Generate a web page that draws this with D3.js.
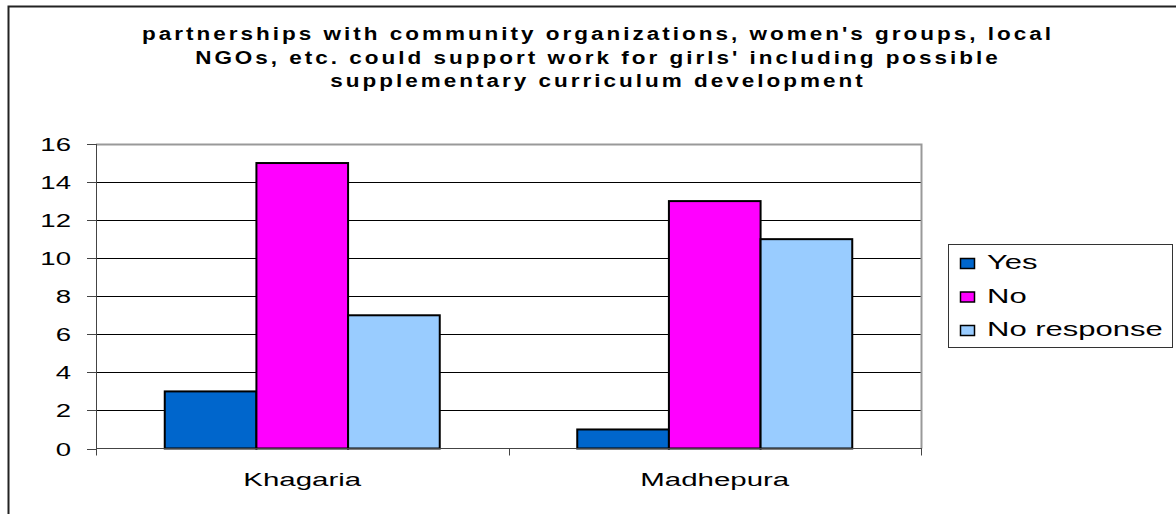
<!DOCTYPE html>
<html>
<head>
<meta charset="utf-8">
<script src="https://cdn.jsdelivr.net/npm/d3@7"></script>
<style>
  body { margin: 0; background: #fff; }
  text { font-family: "Liberation Sans", Arial, sans-serif; fill: #000; }
</style>
</head>
<body>
<div id="chart"></div>
<script>
(function(d3) {
'use strict';

var titleLines = [
  "partnerships with community organizations, women's groups, local",
  "NGOs, etc. could support work for girls' including possible",
  "supplementary curriculum development"
];
var districts = ['Khagaria', 'Madhepura'];
var seriesNames = ['Yes', 'No', 'No response'];
var yesValues = [3, 1];
var noValues = [15, 13];
var noResponseValues = [7, 11];
var yTicks = [0, 2, 4, 6, 8, 10, 12, 14, 16];

var seriesValues = [yesValues, noValues, noResponseValues];
var colors = ['#0066CC', '#FF00FF', '#99CCFF'];

var width = 1176, height = 514;
var plot = {left: 96, right: 921, top: 144, bottom: 448.5};
var stretch = 1.45;

var svg = d3.select('#chart')
  .append('svg')
  .attr('width', width)
  .attr('height', height);

// outer frame (top and left only)
svg.append('path')
  .attr('d', 'M8.5,' + height + 'V6.5H' + width)
  .attr('fill', 'none')
  .attr('stroke', '#222')
  .attr('stroke-width', 2);

// title, wide spacing like the original
svg.selectAll('.title')
  .data(titleLines)
  .enter()
  .append('text')
  .attr('class', 'title')
  .attr('transform', function(d, i) { return 'translate(598,' + (40 + i * 23.5) + ') scale(1.25,1)'; })
  .attr('text-anchor', 'middle')
  .style('font-weight', 'bold')
  .style('font-size', '18px')
  .style('letter-spacing', '2.4px')
  .text(function(d) { return d; });

var x0 = d3.scaleBand()
  .domain(districts)
  .range([plot.left, plot.right]);

// excel style gap: 1.5 bar widths split on both sides
var x1 = d3.scaleBand()
  .domain(seriesNames)
  .range([0, x0.bandwidth()])
  .paddingInner(0)
  .paddingOuter(0.75);

var y = d3.scaleLinear()
  .domain([0, 16])
  .range([plot.bottom, plot.top]);

// gridlines
svg.append('g')
  .selectAll('line')
  .data(yTicks.filter(function(t) { return t > 0 && t < 16; }))
  .enter()
  .append('line')
  .attr('x1', plot.left)
  .attr('x2', plot.right)
  .attr('y1', function(d) { return Math.round(y(d)) + 0.5; })
  .attr('y2', function(d) { return Math.round(y(d)) + 0.5; })
  .attr('stroke', '#000')
  .attr('stroke-width', 1);

// plot border top/right (gray)
svg.append('path')
  .attr('d', 'M' + plot.left + ',' + (plot.top + 0.5) + 'H' + (plot.right + 0.5) + 'V' + plot.bottom)
  .attr('fill', 'none')
  .attr('stroke', '#999')
  .attr('stroke-width', 2);

// bars
var groups = svg.append('g')
  .selectAll('g')
  .data(districts)
  .enter()
  .append('g')
  .attr('transform', function(d) { return 'translate(' + x0(d) + ',0)'; });

groups.selectAll('rect')
  .data(function(d, i) {
    return seriesNames.map(function(s, j) { return {series: s, value: seriesValues[j][i], idx: j}; });
  })
  .enter()
  .append('rect')
  .attr('x', function(d) { return x1(d.series); })
  .attr('width', x1.bandwidth())
  .attr('y', function(d) { return y(d.value); })
  .attr('height', function(d) { return y(0) - y(d.value); })
  .attr('fill', function(d) { return colors[d.idx]; })
  .attr('stroke', '#000')
  .attr('stroke-width', 2);

// y axis
var yAxis = svg.append('g');
yAxis.append('line')
  .attr('x1', plot.left + 0.5).attr('x2', plot.left + 0.5)
  .attr('y1', plot.top).attr('y2', plot.bottom + 6)
  .attr('stroke', '#444');
yAxis.selectAll('.tick')
  .data(yTicks)
  .enter()
  .append('line')
  .attr('x1', plot.left - 9)
  .attr('x2', plot.left)
  .attr('y1', function(d) { return Math.round(y(d)) + 0.5; })
  .attr('y2', function(d) { return Math.round(y(d)) + 0.5; })
  .attr('stroke', '#444');
yAxis.selectAll('text')
  .data(yTicks)
  .enter()
  .append('text')
  .attr('transform', function(d) { return 'translate(71,' + (y(d) + 7) + ') scale(' + stretch + ',1)'; })
  .attr('text-anchor', 'end')
  .style('font-size', '19px')
  .text(function(d) { return d; });

// x axis
var xAxis = svg.append('g');
xAxis.append('line')
  .attr('x1', plot.left).attr('x2', plot.right + 1)
  .attr('y1', plot.bottom).attr('y2', plot.bottom)
  .attr('stroke', '#444');
xAxis.selectAll('.tick')
  .data([plot.left, x0('Madhepura'), plot.right])
  .enter()
  .append('line')
  .attr('x1', function(d) { return Math.round(d) + 0.5; })
  .attr('x2', function(d) { return Math.round(d) + 0.5; })
  .attr('y1', plot.bottom)
  .attr('y2', plot.bottom + 7)
  .attr('stroke', '#444');
xAxis.selectAll('text')
  .data(districts)
  .enter()
  .append('text')
  .attr('transform', function(d) { return 'translate(' + (x0(d) + x0.bandwidth() / 2) + ',486) scale(1.55,1)'; })
  .attr('text-anchor', 'middle')
  .style('font-size', '19px')
  .text(function(d) { return d; });

// legend
var legend = svg.append('g');
legend.append('rect')
  .attr('x', 948.5).attr('y', 244.5)
  .attr('width', 224).attr('height', 103)
  .attr('fill', '#fff')
  .attr('stroke', '#333');
var items = legend.selectAll('.item')
  .data(seriesNames)
  .enter()
  .append('g')
  .attr('transform', function(d, i) { return 'translate(0,' + (269 + i * 33.5) + ')'; });
items.append('rect')
  .attr('x', 960.5).attr('y', -10.5)
  .attr('width', 14).attr('height', 10)
  .attr('fill', function(d, i) { return colors[i]; })
  .attr('stroke', '#000')
  .attr('stroke-width', 1.5);
items.append('text')
  .attr('transform', 'translate(987,0) scale(1.55,1)')
  .style('font-size', '20px')
  .text(function(d) { return d; });

})(window.d3);
</script>
</body>
</html>
